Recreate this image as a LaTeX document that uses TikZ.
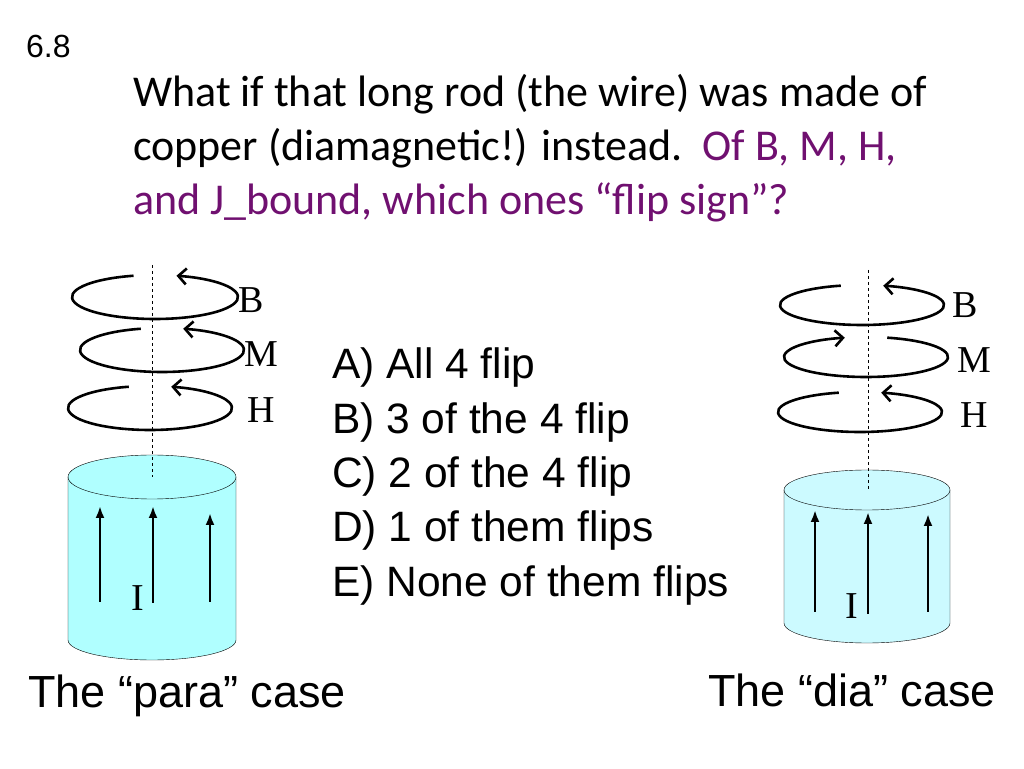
\documentclass[tikz,border=0pt]{standalone}
\usepackage{fontspec}
\setmainfont{Carlito}
\newfontfamily\arialfont{Liberation Sans}
\newfontfamily\timesfont{Liberation Serif}
\usepackage{tikz}
\usetikzlibrary{arrows,arrows.meta}
\definecolor{slidepurple}{RGB}{112,16,112}
\definecolor{rodcyan}{RGB}{176,255,255}
\definecolor{rodpale}{RGB}{204,250,255}

\begin{document}
\begin{tikzpicture}[x=1pt,y=1pt,
  loop/.style={-{Straight Barb[length=8pt,width=16pt]},line width=2.6pt},
  current/.style={-{Latex[length=12pt,width=9pt]},line width=2.4pt},
  axis/.style={dashed,line width=1pt},
  fieldlbl/.style={font=\timesfont\fontsize{38}{38}\selectfont,anchor=west,inner sep=0pt},
  answer/.style={font=\arialfont\fontsize{42.5}{54.3}\selectfont,anchor=north west,align=left,inner sep=0pt},
  caselbl/.style={font=\arialfont\fontsize{45}{45}\selectfont,anchor=west,inner sep=0pt}]
  \useasboundingbox (0,0) rectangle (1024,768);

  % slide number and question
  \node[font=\arialfont\fontsize{32}{32}\selectfont,anchor=west,inner sep=0pt] (num) at (26,722) {6.8};
  \node[anchor=north west,align=left,inner sep=0pt,font=\fontsize{44}{54}\selectfont] (question) at (133,694)
    {What if that long rod (the wire) was made of\\
     copper (diamagnetic!) instead.\ \ \textcolor{slidepurple}{Of B, M, H,}\\
     \textcolor{slidepurple}{and J\_bound, which ones “flip sign”?}};

  % answers
  \node[answer] (answers) at (332,420)
    {A) All 4 flip\\B) 3 of the 4 flip\\C) 2 of the 4 flip\\D) 1 of them flips\\E) None of them flips};

  % the para case
  \fill[rodcyan] (68,291) -- (68,128) arc (180:360:84 and 20) -- (236,291) arc (0:180:84 and 22);
  \draw (68,291) -- (68,128) arc (180:360:84 and 20) -- (236,291);
  \draw (152,291) ellipse (84 and 22);
  \draw[axis] (152,503) -- (152,291);
  \draw[loop] (155,471) ++(105:83 and 22) arc (105:435:83 and 22);
  \draw[loop] (162,418) ++(105:82 and 22) arc (105:435:82 and 22);
  \draw[loop] (150,360) ++(105:82 and 22) arc (105:435:82 and 22);
  \node[fieldlbl] (pB) at (238,468) {B};
  \node[fieldlbl] (pM) at (244,414) {M};
  \node[fieldlbl] (pH) at (247,358) {H};
  \foreach \x/\lo/\hi [count=\i] in {100/166/262,153/165/262,210/166/255} {
    \coordinate (pa\i) at (\x,\lo);
    \coordinate (pb\i) at (\x,\hi);
    \draw[current] (pa\i) -- (pb\i);
  }
  \node[font=\timesfont\fontsize{38}{38}\selectfont] (pI) at (138,170) {I};
  \node[caselbl] (para) at (28,72) {The “para” case};

  % the dia case
  \fill[rodpale] (784,278) -- (784,145) arc (180:360:83 and 20) -- (950,278) arc (0:180:83 and 20);
  \draw (784,278) -- (784,145) arc (180:360:83 and 20) -- (950,278);
  \draw (867,278) ellipse (83 and 20);
  \draw[axis] (868,498) -- (868,278);
  \draw[loop] (862,463) ++(105:82 and 20) arc (105:435:82 and 20);
  \draw[loop] (866,411) ++(75:82 and 20) arc (75:-255:82 and 20);
  \draw[loop] (860,356) ++(105:82 and 20) arc (105:435:82 and 20);
  \node[fieldlbl] (dB) at (952,463) {B};
  \node[fieldlbl] (dM) at (957,408) {M};
  \node[fieldlbl] (dH) at (960,353) {H};
  \foreach \x/\lo/\hi [count=\i] in {815/156/258,868/154/256,928/156/254} {
    \coordinate (da\i) at (\x,\lo);
    \coordinate (db\i) at (\x,\hi);
    \draw[current] (da\i) -- (db\i);
  }
  \node[font=\timesfont\fontsize{38}{38}\selectfont] (dI) at (852,162) {I};
  \node[caselbl] (dia) at (708,78) {The “dia” case};
\end{tikzpicture}
\end{document}
